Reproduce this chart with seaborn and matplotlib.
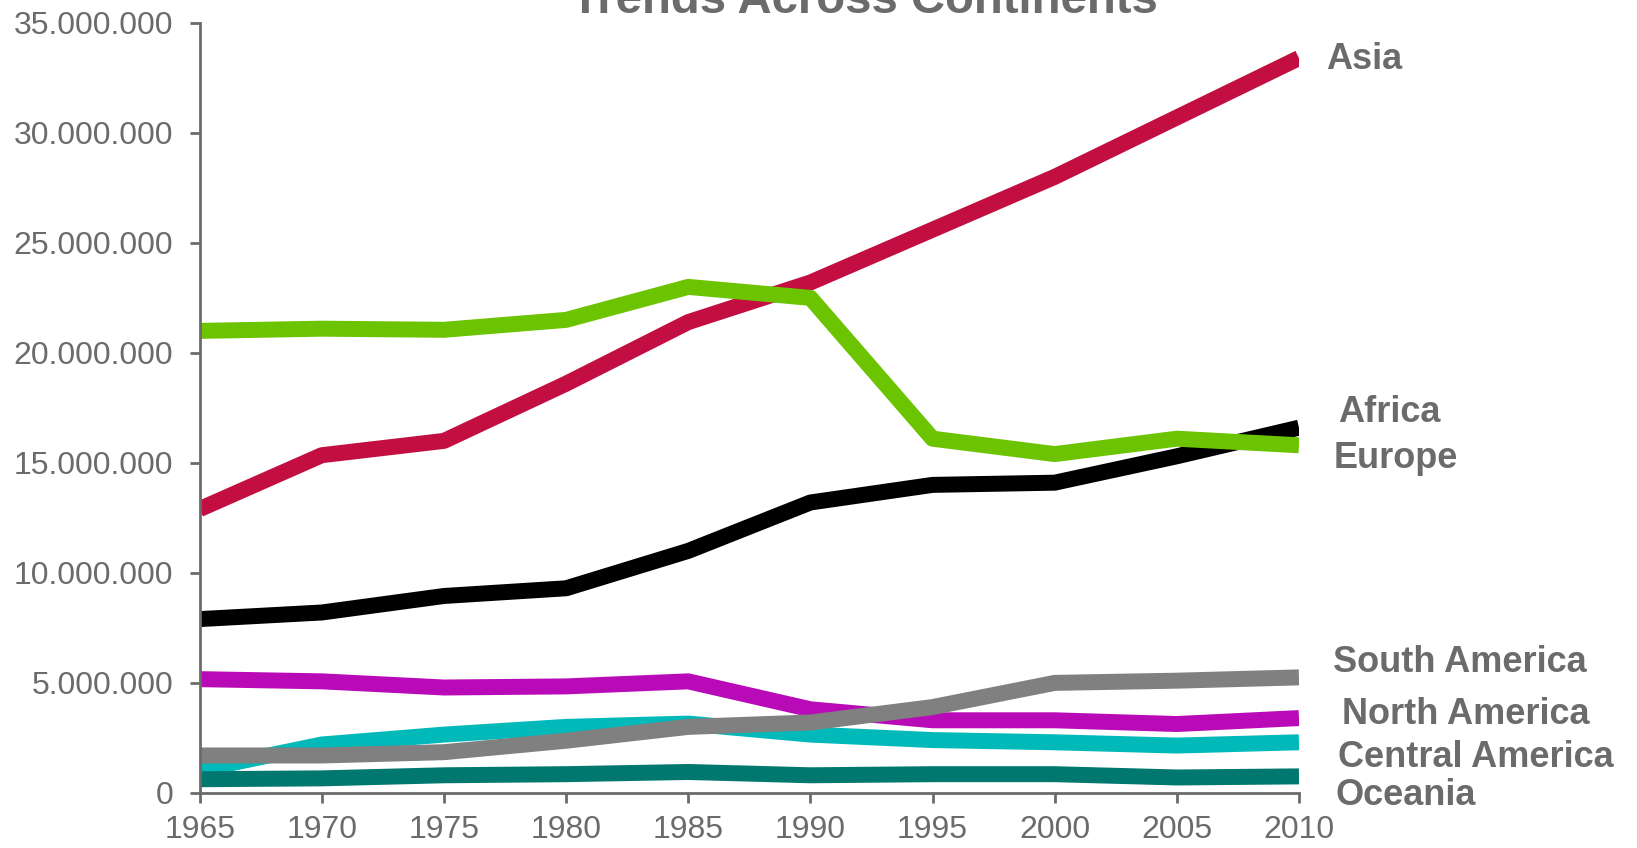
import matplotlib
matplotlib.use("Agg")
import matplotlib.pyplot as plt
import seaborn as sns
import pandas as pd
from matplotlib.ticker import FuncFormatter

years = [1965, 1970, 1975, 1980, 1985, 1990, 1995, 2000, 2005, 2010]
africa = [7.9, 8.2, 8.95, 9.3, 11.0, 13.2, 14.0, 14.1, 15.3, 16.6]
asia = [12.9, 15.35, 16.0, 18.6, 21.4, 23.2, 25.6, 28.0, 30.7, 33.4]
central_america = [1.05, 2.2, 2.65, 3.0, 3.15, 2.65, 2.4, 2.3, 2.15, 2.3]
europe = [21.0, 21.1, 21.05, 21.5, 23.0, 22.5, 16.1, 15.4, 16.1, 15.8]
north_america = [5.17, 5.07, 4.79, 4.84, 5.07, 3.8, 3.3, 3.3, 3.13, 3.4]
oceania = [0.62, 0.66, 0.8, 0.85, 0.95, 0.8, 0.85, 0.85, 0.7, 0.75]
south_america = [1.7, 1.7, 1.85, 2.37, 3.0, 3.2, 3.9, 5.0, 5.1, 5.25]

continents = ["Africa", "Asia", "Central America", "Europe",
              "North America", "Oceania", "South America"]
series = [africa, asia, central_america, europe, north_america, oceania, south_america]
colors = ["#000000", "#C20E40", "#00B9B8", "#6CC300",
          "#B80AB6", "#00776F", "#808080"]
yticks = [0, 5e6, 10e6, 15e6, 20e6, 25e6, 30e6, 35e6]
title = "Trends Across Continents"

rows = []
for name, vals in zip(continents, series):
    for yr, v in zip(years, vals):
        rows.append({"Year": yr, "Value": v * 1e6, "Continent": name})
df = pd.DataFrame(rows)

sns.set_style("ticks")
plt.rcParams["font.family"] = ["Liberation Sans", "DejaVu Sans"]

fig = plt.figure(figsize=(16.37, 8.48), dpi=100)
ax = fig.add_axes([0.122, 0.065, 0.6715, 0.908])

sns.lineplot(data=df, x="Year", y="Value", hue="Continent", hue_order=continents,
             palette=dict(zip(continents, colors)), linewidth=11.5, ax=ax,
             legend=False, solid_capstyle="butt")

ax.set_xlim(1965, 2010)
ax.set_ylim(0, 35e6)
ax.set_xticks(years)
ax.set_yticks(yticks)
ax.yaxis.set_major_formatter(FuncFormatter(lambda v, p: f"{int(v):,}".replace(",", ".")))
ax.set_xlabel("")
ax.set_ylabel("")
grey = "#6b6b6b"
for s in ["top", "right"]:
    ax.spines[s].set_visible(False)
for s in ["left", "bottom"]:
    ax.spines[s].set_color(grey)
    ax.spines[s].set_linewidth(2)
ax.tick_params(axis="both", colors=grey, labelcolor=grey, labelsize=23,
               length=7, width=2, direction="out")
ax.tick_params(axis="y", pad=12)
ax.tick_params(axis="x", pad=9)

label_pos = {
    "Asia": (2011.1, 33.34e6),
    "Africa": (2011.6, 17.3e6),
    "Europe": (2011.4, 15.2e6),
    "South America": (2011.4, 5.93e6),
    "North America": (2011.75, 3.56e6),
    "Central America": (2011.6, 1.61e6),
    "Oceania": (2011.5, -0.14e6),
}
for name in continents:
    x, y = label_pos[name]
    ax.text(x, y, name, fontsize=26, fontweight="bold", color=grey,
            ha="left", va="center", clip_on=False)

fig.text(0.528, 0.985, title, fontsize=34, fontweight="bold", color=grey,
         ha="center", va="baseline")

fig.savefig("out.png", dpi=100)
